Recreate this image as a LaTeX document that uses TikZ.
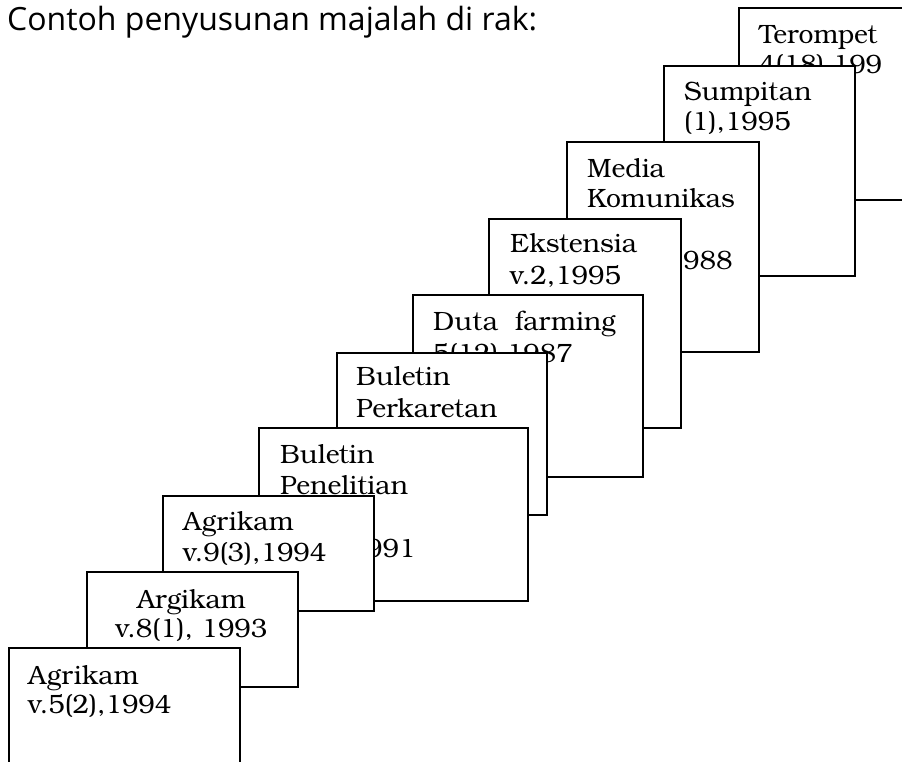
\documentclass[tikz,border=0pt]{standalone}
\usepackage{fontspec}
\setmainfont{TeX Gyre Bonum}
\newfontfamily\titlefont{Open Sans}
\begin{document}
\begin{tikzpicture}[x=1pt,y=-1pt,
  box/.style={draw=black, line width=1.6pt, fill=white, inner sep=0pt, anchor=north west},
  lbl/.style={anchor=base west, inner sep=0pt, font=\fontsize{26.5}{30}\selectfont},
  lblc/.style={anchor=base, inner sep=0pt, font=\fontsize{26.5}{30}\selectfont},
  ttl/.style={anchor=base west, inner sep=0pt, font=\titlefont\fontsize{32}{34}\selectfont}]
\useasboundingbox (0,0) rectangle (902,761);
\clip (0,0) rectangle (902,761);
\fill[white] (0,0) rectangle (902,761);
\node[ttl] (title) at (7,30) {Contoh penyusunan majalah di rak:};
% box 10
\node[box, minimum width=222pt, minimum height=192pt] (b10) at (738,7) {};
\node[lbl] (t10a) at (759,43) {Terompet};
\node[lbl] (t10b) at (759,73) {4(18),199};
% box 9
\node[box, minimum width=191pt, minimum height=210pt] (b9) at (663,65) {};
\node[lbl] (t9a) at (684,100) {Sumpitan};
\node[lbl] (t9b) at (684,130) {(1),1995};
% box 8
\node[box, minimum width=192pt, minimum height=210pt] (b8) at (566,141) {};
\node[lbl] (t8a) at (587,177) {Media};
\node[lbl] (t8b) at (587,207) {Komunikas};
\node[lbl] (t8c) at (683,269) {988};
% box 7
\node[box, minimum width=192pt, minimum height=209pt] (b7) at (488,218) {};
\node[lbl] (t7a) at (510,252) {Ekstensia};
\node[lbl] (t7b) at (510,284) {v.2,1995};
% box 6
\node[box, minimum width=230pt, minimum height=182pt] (b6) at (412,294) {};
\node[lbl] (t6a) at (433,330) {Duta\ \ farming};
\node[lbl] (t6b) at (433,362) {5(12),1987};
% box 5
\node[box, minimum width=210pt, minimum height=162pt] (b5) at (336,352) {};
\node[lbl] (t5a) at (356,385) {Buletin};
\node[lbl] (t5b) at (356,417) {Perkaretan};
% box 4
\node[box, minimum width=269pt, minimum height=173pt] (b4) at (258,427) {};
\node[lbl] (t4a) at (280,463) {Buletin};
\node[lbl] (t4b) at (280,494) {Penelitian};
\node[lbl] (t4c) at (366,557) {991};
% box 3
\node[box, minimum width=211pt, minimum height=115pt] (b3) at (162,495) {};
\node[lbl] (t3a) at (183,530) {Agrikam};
\node[lbl] (t3b) at (183,561) {v.9(3),1994};
% box 2
\node[box, minimum width=211pt, minimum height=115pt] (b2) at (86,571) {};
\node[lblc] (t2a) at (191.5,608) {Argikam};
\node[lblc] (t2b) at (191.5,637) {v.8(1), 1993};
% box 1
\node[box, minimum width=231pt, minimum height=160pt] (b1) at (8,647) {};
\node[lbl] (t1a) at (28,684) {Agrikam};
\node[lbl] (t1b) at (28,713) {v.5(2),1994};
\end{tikzpicture}
\end{document}
